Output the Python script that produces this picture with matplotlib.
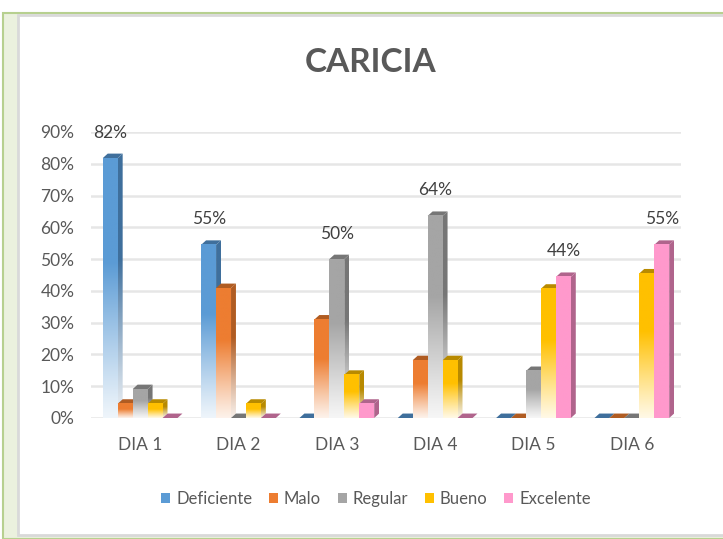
import numpy as np
import matplotlib.pyplot as plt
from matplotlib.patches import Polygon, Rectangle, Patch
from matplotlib.colors import to_rgb

dias = ["DIA 1", "DIA 2", "DIA 3", "DIA 4", "DIA 5", "DIA 6"]
series = ["Deficiente", "Malo", "Regular", "Bueno", "Excelente"]

# porcentajes
deficiente = [81.8, 54.5, 0, 0, 0, 0]
malo = [4.5, 40.9, 31.0, 18.2, 0, 0]
regular = [9.1, 0, 50.0, 63.6, 14.8, 0]
bueno = [4.5, 4.5, 13.6, 18.2, 40.7, 45.5]
excelente = [0, 0, 4.5, 0, 44.4, 54.5]

colores = ["#5B9BD5", "#ED7D31", "#A5A5A5", "#FFC000", "#FF99CC"]
lados = ["#3F6F9C", "#B05C22", "#767676", "#B88A00", "#B0648C"]

datos = [deficiente, malo, regular, bueno, excelente]

FONT = ["Lato", "DejaVu Sans"]
plt.rcParams["font.family"] = FONT

fig = plt.figure(figsize=(7.23, 5.39), dpi=100)
W, H = 723, 539

# marco tipo hoja de calculo
fig.patches.append(Rectangle((3 / W, 0), 1, (H - 13) / H, transform=fig.transFigure,
                             facecolor="#EBF1DE", edgecolor="#B7D08F", lw=1.5, zorder=-2))
fig.patches.append(Rectangle((18 / W, 4 / H), 1, (H - 19) / H, transform=fig.transFigure,
                             facecolor="white", edgecolor="#D9D9D9", lw=2, zorder=-1))

ax = fig.add_axes([91 / W, (H - 418) / H, 590 / W, 286 / H])
ax.set_zorder(2)
ax.set_xlim(-0.5, 5.5)
ax.set_ylim(0, 90)
ax.patch.set_alpha(0)

w = 0.152
dx = 0.05
dy = 1.4


def gradiente(color, solido=False):
    c = np.array(to_rgb(color))
    t = np.linspace(0, 1, 200)
    if solido:
        a = np.ones_like(t)
    else:
        a = np.clip(t / 0.6, 0, 1) ** 1.1
        a = 0.1 + 0.9 * a
    img = (1 - a[:, None]) * np.ones(3) + a[:, None] * c
    return img[:, None, :]


for j in range(len(dias)):
    for i in range(len(series)):
        h = datos[i][j]
        x0 = j + (i - 2.5) * w
        x1 = x0 + w
        solido = series[i] == "Excelente"
        z = 3 + i
        # cara superior
        top = Polygon([(x0, h), (x1, h), (x1 + dx, h + dy), (x0 + dx, h + dy)],
                      closed=True, facecolor=lados[i], edgecolor="none", zorder=z)
        ax.add_patch(top)
        if h <= 0:
            continue
        # cara lateral
        side = Polygon([(x1, 0), (x1 + dx, dy), (x1 + dx, h + dy), (x1, h)],
                       closed=True, facecolor="none", edgecolor="none")
        ax.add_patch(side)
        im = ax.imshow(gradiente(lados[i], solido), extent=(x1, x1 + dx, 0, h + dy),
                       origin="lower", aspect="auto", zorder=z, interpolation="bilinear")
        im.set_clip_path(side)
        # cara frontal
        ax.imshow(gradiente(colores[i], solido), extent=(x0, x1, 0, h),
                  origin="lower", aspect="auto", zorder=z + 0.1, interpolation="bilinear")

    # etiqueta del maximo (redondeo como excel)
    vals = [d[j] for d in datos]
    k = int(np.argmax(vals))
    xc = j + (k - 2) * w
    ax.text(xc, vals[k] + 5.5, "%d%%" % int(vals[k] + 0.5), ha="center", va="bottom",
            fontsize=12.5, color="#404040")

ax.set_xlim(-0.5, 5.5)
ax.set_ylim(0, 90)
ax.set_yticks(np.arange(0, 91, 10))
ax.set_yticklabels(["%d%%" % v for v in range(0, 91, 10)])
ax.set_xticks(range(len(dias)))
ax.set_xticklabels(dias)
ax.tick_params(length=0, labelsize=12.5, colors="#595959")
ax.tick_params(axis="y", pad=12)
ax.tick_params(axis="x", pad=14)
ax.grid(axis="y", color="#E6E6E6", lw=1.8, zorder=0)
ax.set_axisbelow(True)
for s in ax.spines.values():
    s.set_visible(False)

fig.text(371 / W, (H - 62) / H, "CARICIA", ha="center", va="center",
         fontsize=24, fontweight="bold", color="#595959")

handles = [Patch(facecolor=c, edgecolor="none") for c in colores]
fig.legend(handles, series, loc="center", bbox_to_anchor=(376 / W, (H - 499) / H),
           ncol=5, frameon=False, fontsize=12, labelcolor="#595959",
           handlelength=0.55, handleheight=0.55, handletextpad=0.35, columnspacing=1.0)

fig.savefig("out.png", dpi=100)
